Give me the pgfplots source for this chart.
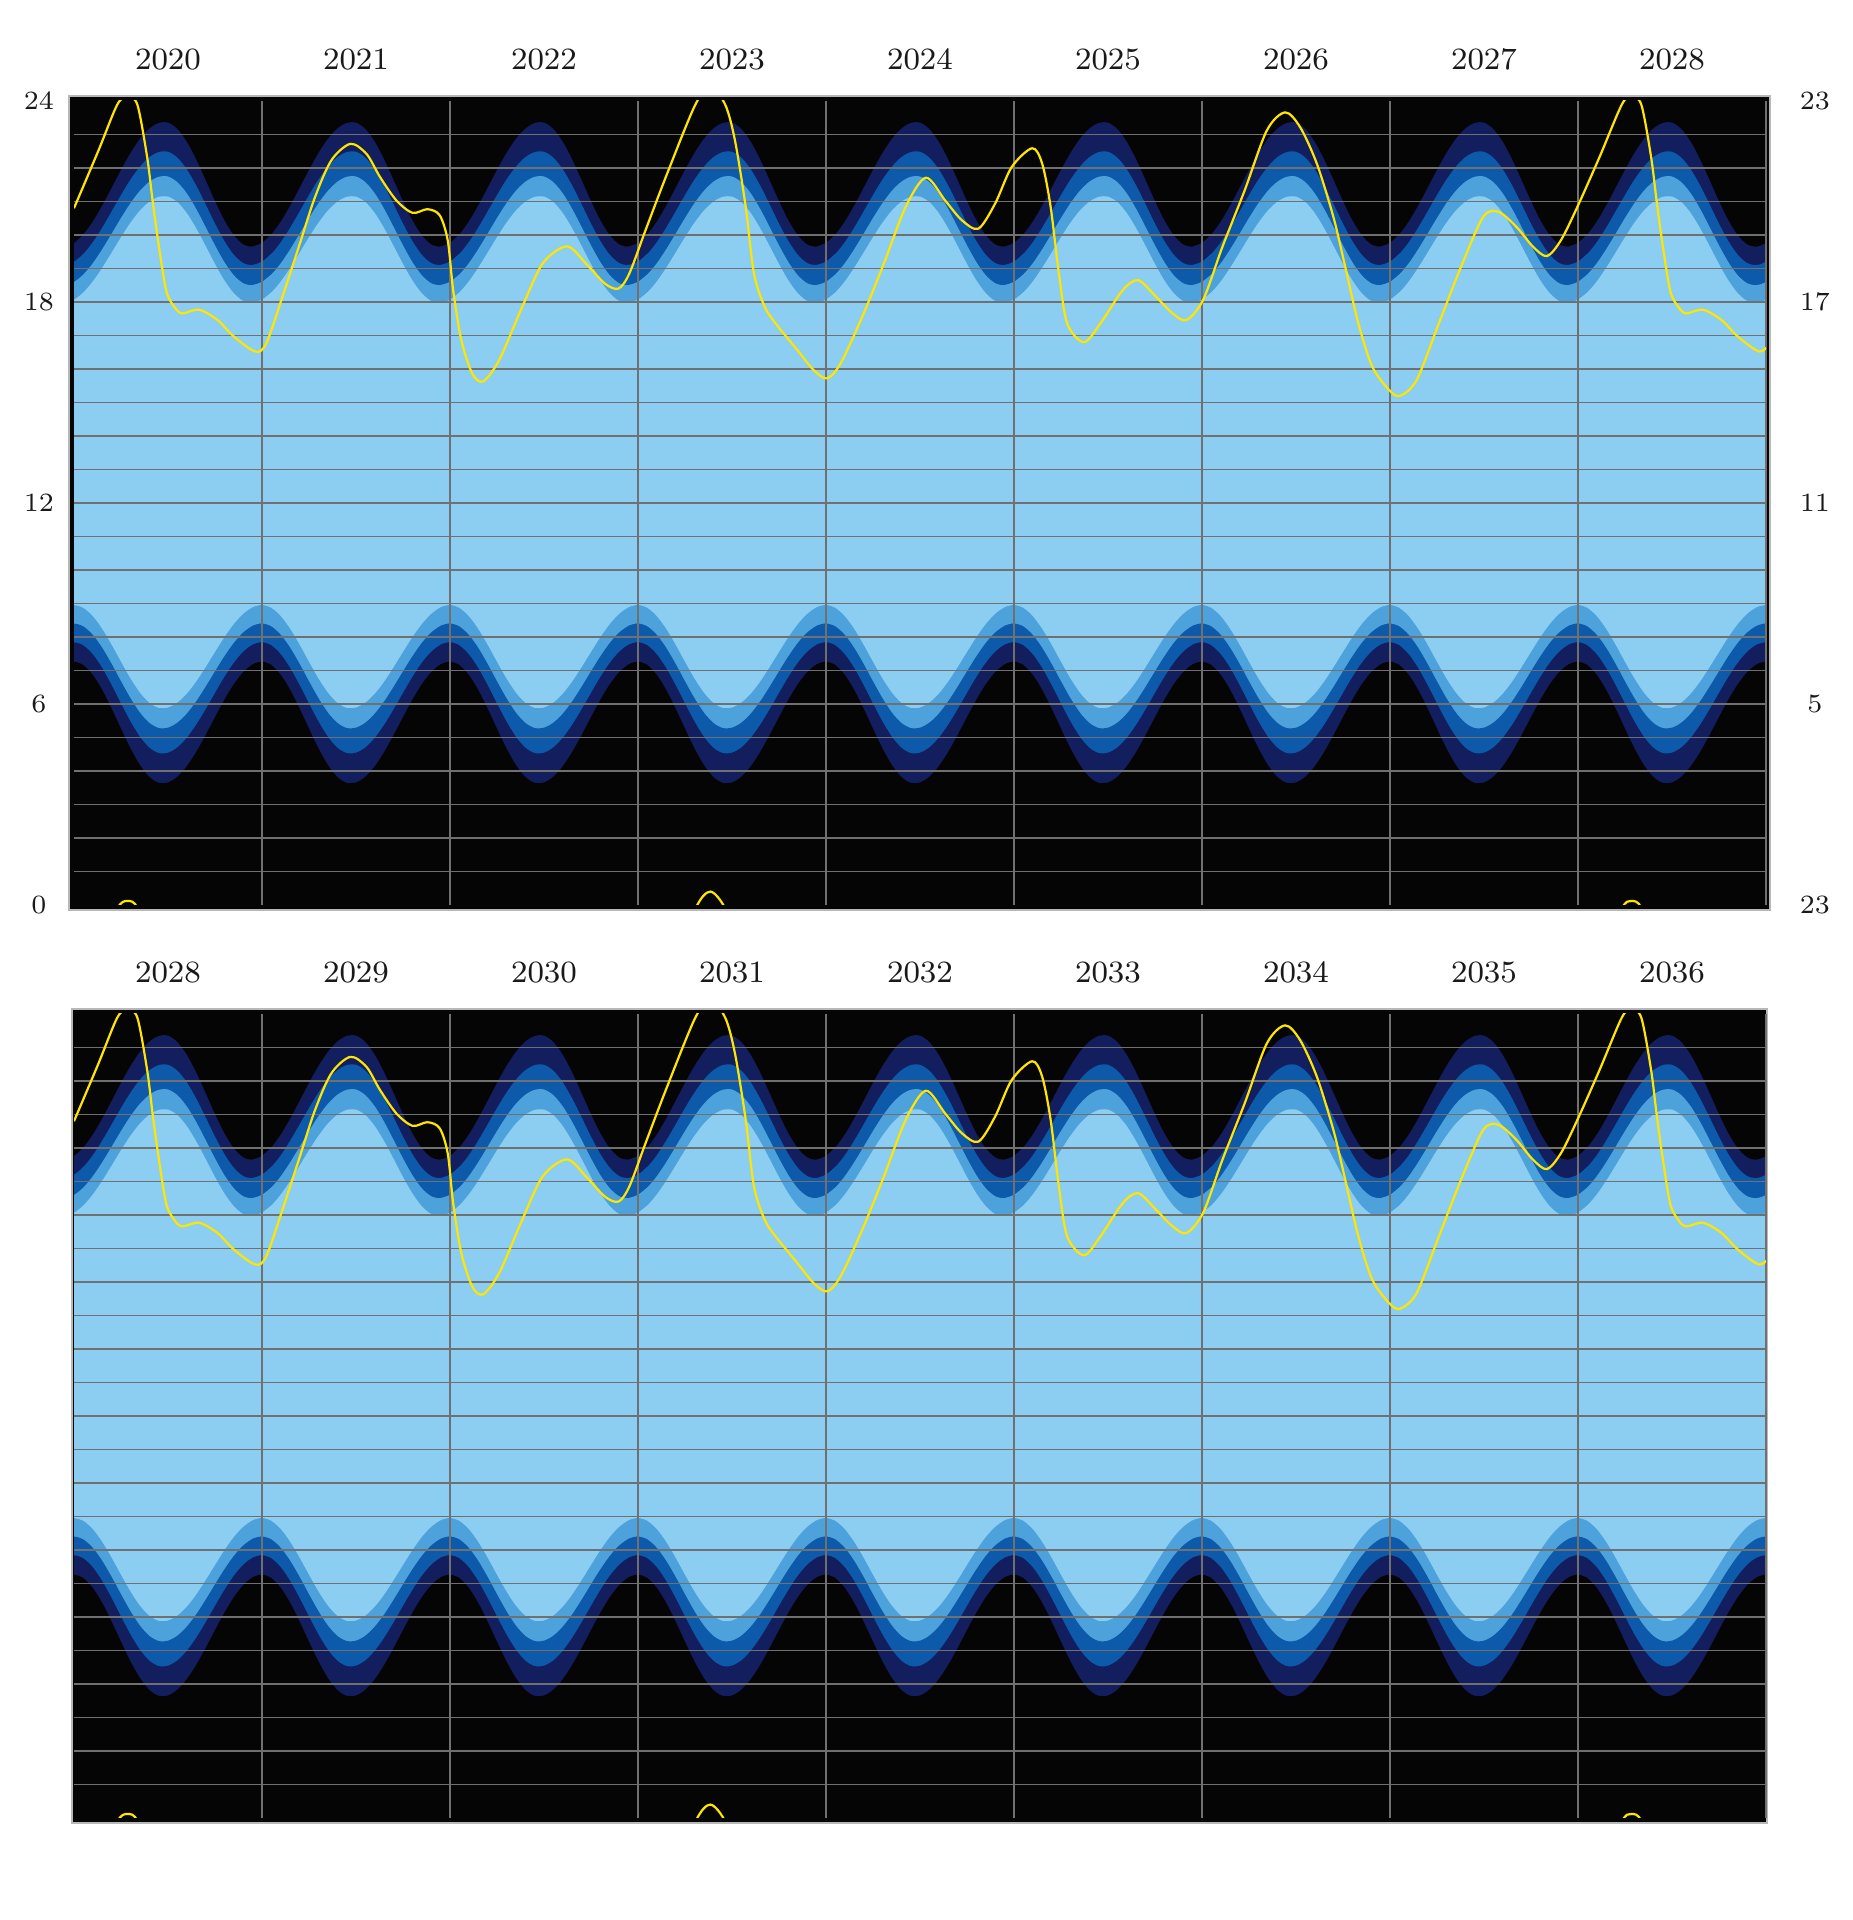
\documentclass[border=0pt]{standalone}
\usepackage{pgfplots}
\usepackage{pgfplotstable}
\pgfplotsset{compat=1.18}

\definecolor{bgc}{HTML}{060506}
\definecolor{navyc}{HTML}{131E5E}
\definecolor{darkc}{HTML}{0E5AAA}
\definecolor{medc}{HTML}{4EA2DB}
\definecolor{lightc}{HTML}{8CCEF1}
\definecolor{gridc}{HTML}{707070}
\definecolor{yelc}{HTML}{FFE600}
\definecolor{boxc}{HTML}{B8B8B8}

% one year of twilight boundaries (hours), t = fraction of year
\pgfplotstableread{
t     ad     nd     cd     sr     ss      cu      nu      au
-0.05 7.181  7.768  8.332  8.883  17.973  18.503  19.103  19.654
0.00  7.260  7.840  8.400  8.950  18.066  18.598  19.202  19.762
0.05  7.160  7.748  8.314  8.865  18.286  18.823  19.437  20.019
0.10  6.870  7.483  8.064  8.619  18.612  19.156  19.784  20.399
0.15  6.422  7.074  7.678  8.239  19.020  19.573  20.219  20.875
0.20  5.866  6.565  7.198  7.767  19.472  20.035  20.701  21.402
0.25  5.264  6.014  6.679  7.256  19.933  20.506  21.192  21.939
0.30  4.681  5.482  6.177  6.762  20.363  20.946  21.651  22.441
0.35  4.184  5.027  5.748  6.340  20.725  21.316  22.036  22.863
0.40  3.826  4.699  5.439  6.036  20.990  21.586  22.319  23.172
0.45  3.647  4.535  5.284  5.884  21.136  21.736  22.474  23.342
0.50  3.658  4.546  5.294  5.894  21.145  21.745  22.484  23.353
0.55  3.830  4.703  5.443  6.040  20.981  21.577  22.309  23.161
0.60  4.143  4.989  5.712  6.305  20.654  21.243  21.961  22.780
0.65  4.568  5.378  6.079  6.666  20.200  20.779  21.477  22.251
0.70  5.071  5.838  6.513  7.093  19.674  20.241  20.916  21.637
0.75  5.607  6.328  6.974  7.547  19.135  19.691  20.342  21.009
0.80  6.127  6.804  7.423  7.989  18.645  19.190  19.819  20.437
0.85  6.589  7.227  7.822  8.381  18.262  18.798  19.411  19.991
0.90  6.950  7.557  8.133  8.687  18.029  18.560  19.163  19.719
0.95  7.181  7.768  8.332  8.883  17.973  18.503  19.103  19.654
1.00  7.260  7.840  8.400  8.950  18.066  18.598  19.202  19.762
1.05  7.160  7.748  8.314  8.865  18.286  18.823  19.437  20.019
}\band

% yellow curve (hours), t = years from start of panel
\pgfplotstableread{
t     h
0.000 20.80
0.130 22.52
0.230 23.89
0.283 24.12
0.337 23.89
0.389 22.33
0.418 21.03
0.447 19.84
0.490 18.35
0.533 17.86
0.575 17.66
0.665 17.77
0.764 17.46
0.850 16.97
0.965 16.52
1.023 16.77
1.109 18.16
1.196 19.65
1.282 21.13
1.369 22.23
1.470 22.72
1.556 22.42
1.628 21.73
1.715 21.03
1.801 20.66
1.880 20.77
1.945 20.59
1.988 19.84
2.017 18.35
2.060 16.87
2.118 15.87
2.176 15.63
2.262 16.27
2.377 17.76
2.493 19.15
2.622 19.66
2.723 19.15
2.824 18.55
2.896 18.40
2.954 18.85
3.040 20.14
3.155 21.83
3.305 23.89
3.385 24.40
3.464 23.89
3.516 22.82
3.573 20.84
3.617 18.85
3.674 17.86
3.732 17.36
3.847 16.57
3.934 15.97
4.006 15.72
4.078 16.17
4.193 17.56
4.308 19.15
4.424 20.84
4.531 21.71
4.634 21.03
4.723 20.44
4.811 20.19
4.900 20.94
4.988 22.03
5.097 22.59
5.150 22.13
5.195 20.84
5.239 18.85
5.283 17.36
5.372 16.80
5.460 17.36
5.578 18.35
5.661 18.65
5.755 18.16
5.844 17.66
5.917 17.46
6.006 18.06
6.109 19.65
6.227 21.33
6.345 23.12
6.442 23.66
6.522 23.22
6.611 22.13
6.699 20.54
6.758 19.15
6.832 17.36
6.906 16.07
6.994 15.38
7.053 15.20
7.142 15.67
7.260 17.36
7.378 19.05
7.496 20.54
7.578 20.69
7.673 20.24
7.761 19.65
7.835 19.37
7.909 19.84
7.997 20.84
8.115 22.33
8.233 23.89
8.283 24.12
8.337 23.89
8.389 22.33
8.418 21.03
8.447 19.84
8.490 18.35
8.533 17.86
8.575 17.66
8.665 17.77
8.764 17.46
8.850 16.97
8.965 16.52
9.023 16.77
}\venus

\newcommand{\bandfill}[2]{%
  \pgfplotsinvokeforeach{0,...,8}{%
    \addplot[draw=none, fill=#2, smooth] table[x expr=\thisrow{t}+##1, y=#1]{\band} \closedcycle;
  }%
}

\newcommand{\panelcontent}[1]{%
  \bandfill{au}{navyc}
  \bandfill{nu}{darkc}
  \bandfill{cu}{medc}
  \bandfill{ss}{lightc}
  \bandfill{sr}{medc}
  \bandfill{cd}{darkc}
  \bandfill{nd}{navyc}
  \bandfill{ad}{bgc}
  \pgfplotsinvokeforeach{1,...,23}{\draw[gridc, line width=0.33pt] (axis cs:0,##1) -- (axis cs:9,##1);}
  \pgfplotsinvokeforeach{1,...,9}{\draw[gridc, line width=0.38pt] (axis cs:##1,0) -- (axis cs:##1,24);}
  \addplot[yelc, line width=0.55pt, smooth] table[x=t, y=h]{\venus};
  \addplot[yelc, line width=0.55pt, smooth] table[x=t, y expr=\thisrow{h}-24]{\venus};
  \pgfplotsinvokeforeach{0,...,8}{%
    \node[anchor=base, text=black!90, font=\fontsize{7.75}{9}\selectfont, yshift=7.75pt]
      at (axis cs:##1+0.5,24) {\the\numexpr #1+##1\relax};
  }%
}

\pgfplotsset{panel/.style={
  anchor=south west, width=423pt, height=201pt, scale only axis,
  xmin=0, xmax=9, ymin=0, ymax=24,
  clip mode=individual,
  axis line style={draw=none},
  xtick=\empty, ytick=\empty,
}}
\tikzset{hl/.style={anchor=center, text=black!90, font=\fontsize{6.6}{8}\selectfont}}

\begin{document}
\begin{tikzpicture}
\path[use as bounding box] (0,0) rectangle (463.25pt,480pt);
\fill[bgc, draw=boxc, line width=0.3pt] (17.25pt,252.5pt) rectangle (442.5pt,456pt);
\fill[bgc, draw=boxc, line width=0.3pt] (18pt,24.25pt) rectangle (441.75pt,227.75pt);

\begin{axis}[panel, at={(18.5pt,253.75pt)}]
  \panelcontent{2020}
  \node[hl, xshift=-8.75pt] at (axis cs:0,0) {0};
  \node[hl, xshift=-8.75pt] at (axis cs:0,6) {6};
  \node[hl, xshift=-8.75pt] at (axis cs:0,12) {12};
  \node[hl, xshift=-8.75pt] at (axis cs:0,18) {18};
  \node[hl, xshift=-8.75pt] at (axis cs:0,24) {24};
  \node[hl, xshift=12.25pt] at (axis cs:9,0) {23};
  \node[hl, xshift=12.25pt] at (axis cs:9,6) {5};
  \node[hl, xshift=12.25pt] at (axis cs:9,12) {11};
  \node[hl, xshift=12.25pt] at (axis cs:9,18) {17};
  \node[hl, xshift=12.25pt] at (axis cs:9,24) {23};
\end{axis}

\begin{axis}[panel, at={(18.5pt,25.5pt)}]
  \panelcontent{2028}
\end{axis}
\end{tikzpicture}
\end{document}
